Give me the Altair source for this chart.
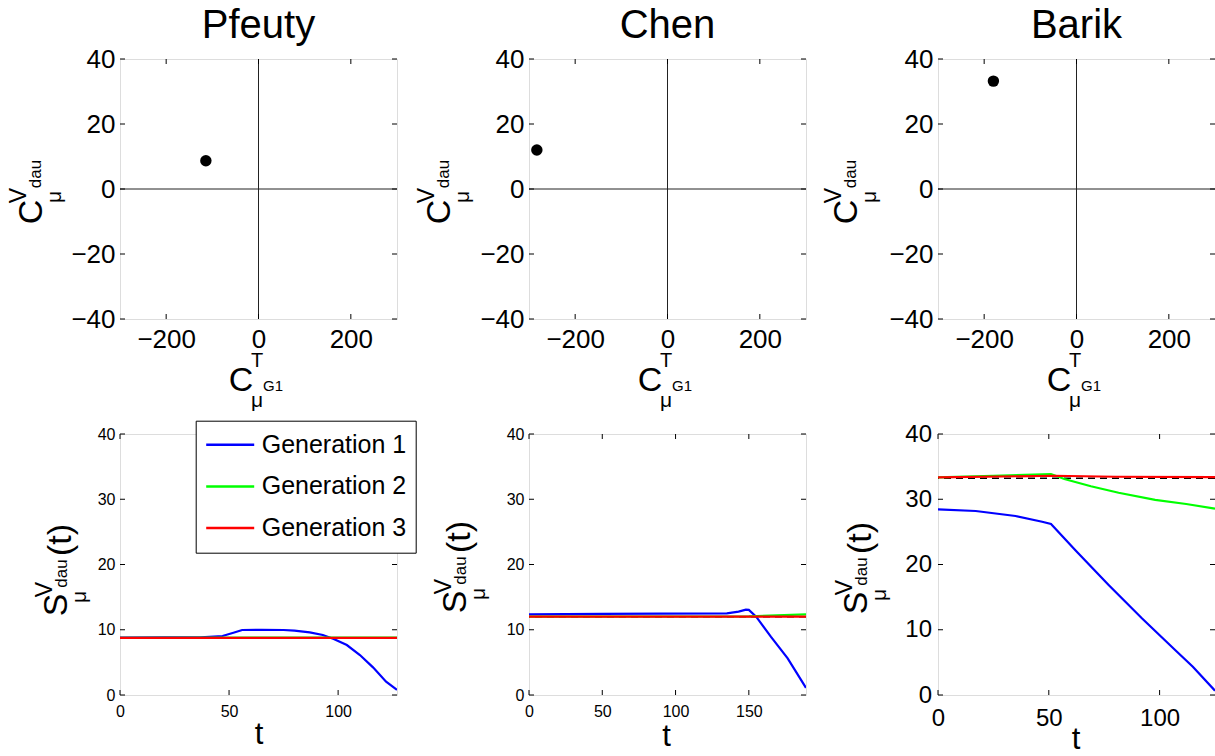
import altair as alt
import pandas as pd

FONT = "Liberation Sans"

models = ["Pfeuty", "Chen", "Barik"]
c_t_g1 = [-114, -283, -180]
c_v_dau = [8.7, 12.0, 33.2]

top_x_ticks = [-200, 0, 200]
top_y_ticks = [-40, -20, 0, 20, 40]
bottom_y_ticks = [0, 10, 20, 30, 40]
bottom_x_ticks = [[0, 50, 100], [0, 50, 100, 150], [0, 50, 100]]
t_end = [127, 189, 125]

generations = ["Generation 1", "Generation 2", "Generation 3"]
gen_colors = ["#0000ff", "#00ff00", "#ff0000"]

# Pfeuty
pf_g1_t = [0, 20, 37, 47, 52, 56, 65, 75, 80, 87, 93, 98, 104, 110, 116, 122, 127]
pf_g1_v = [8.8, 8.82, 8.84, 9.04, 9.55, 9.96, 9.99, 9.96, 9.88, 9.6, 9.2, 8.58, 7.66, 6.13, 4.24, 2.04, 0.8]
pf_g2_t = [0, 127]
pf_g2_v = [8.77, 8.8]
pf_g3_t = [0, 127]
pf_g3_v = [8.74, 8.74]

# Chen
ch_g1_t = [0, 50, 90, 135, 143, 148, 150, 155, 165, 176.5, 189]
ch_g1_v = [12.36, 12.42, 12.46, 12.52, 12.77, 13.08, 13.05, 12.0, 8.94, 5.62, 1.1]
ch_g2_t = [0, 150, 189]
ch_g2_v = [12.02, 12.05, 12.35]
ch_g3_t = [0, 189]
ch_g3_v = [12.0, 12.0]

# Barik
ba_g1_t = [0, 17, 35, 47, 51, 62, 77, 92, 107, 115, 125]
ba_g1_v = [28.46, 28.2, 27.43, 26.56, 26.2, 22.2, 16.86, 11.75, 6.9, 4.34, 0.66]
ba_g2_t = [0, 25, 51, 57, 69, 81.5, 98, 112, 125]
ba_g2_v = [33.35, 33.6, 33.87, 33.1, 32.0, 31.0, 29.9, 29.27, 28.55]
ba_g3_t = [0, 52, 80, 125]
ba_g3_v = [33.35, 33.6, 33.45, 33.4]

series = [
    [(pf_g1_t, pf_g1_v), (pf_g2_t, pf_g2_v), (pf_g3_t, pf_g3_v)],
    [(ch_g1_t, ch_g1_v), (ch_g2_t, ch_g2_v), (ch_g3_t, ch_g3_v)],
    [(ba_g1_t, ba_g1_v), (ba_g2_t, ba_g2_v), (ba_g3_t, ba_g3_v)],
]

W = 277
HT = 260
HB = 261
ONE = pd.DataFrame({"d": [0]})


def txt(s, x, y, size, angle=0, baseline="middle"):
    return alt.Chart(ONE).mark_text(
        text=s, fontSize=size, font=FONT, angle=angle, align="center",
        baseline=baseline, color="black"
    ).encode(x=alt.value(x), y=alt.value(y))


def inward_ticks(xvals, yvals, xs, ys, xaxis, yaxis, h, L=5):
    dx = pd.DataFrame({"v": xvals})
    dy = pd.DataFrame({"v": yvals})
    m = dict(color="black", strokeWidth=1)
    return [
        alt.Chart(dx).mark_rule(**m).encode(x=alt.X("v:Q", scale=xs, axis=xaxis), y=alt.value(h), y2=alt.value(h - L)),
        alt.Chart(dx).mark_rule(**m).encode(x=alt.X("v:Q", scale=xs, axis=xaxis), y=alt.value(0), y2=alt.value(L)),
        alt.Chart(dy).mark_rule(**m).encode(y=alt.Y("v:Q", scale=ys, axis=yaxis), x=alt.value(0), x2=alt.value(L)),
        alt.Chart(dy).mark_rule(**m).encode(y=alt.Y("v:Q", scale=ys, axis=yaxis), x=alt.value(W), x2=alt.value(W - L)),
    ]


def axis(vals, fs, pad):
    return alt.Axis(values=vals, title=None, labelFontSize=fs, labelPadding=pad,
                    labelFlush=False, labelOverlap=False, grid=False, ticks=False,
                    tickSize=0, domain=False, labelFont=FONT, labelColor="black")


def top_panel(i):
    xs = alt.Scale(domain=[-300, 300], nice=False, zero=False)
    ys = alt.Scale(domain=[-40, 40], nice=False, zero=False)
    xaxis = axis(top_x_ticks, 26, 7)
    yaxis = axis(top_y_ticks, 26, 5)
    zero = pd.DataFrame({"v": [0]})
    zx = alt.Chart(zero).mark_rule(color="#222222", strokeWidth=1).encode(
        x=alt.X("v:Q", scale=xs, axis=xaxis))
    zy = alt.Chart(zero).mark_rule(color="#222222", strokeWidth=1).encode(
        y=alt.Y("v:Q", scale=ys, axis=yaxis))
    pts = pd.DataFrame({"c": [c_t_g1[i]], "v": [c_v_dau[i]], "model": [models[i]]})
    dot = alt.Chart(pts).mark_circle(size=130, color="black", opacity=1).encode(
        x=alt.X("c:Q", scale=xs, axis=xaxis), y=alt.Y("v:Q", scale=ys, axis=yaxis))
    sx = [0, -1, -3][i]
    dy = 3
    labels = [
        txt(models[i], W / 2, -21, 40, baseline="alphabetic"),
        # y label  C_mu^{V_dau}
        txt("C", -88 + sx, 150 + dy, 34, angle=270),
        txt("V", -101 + sx, 133.5 + dy, 23, angle=270),
        txt("dau", -84.5 + sx, 112 + dy, 17, angle=270),
        txt("μ", -65 + sx, 135 + dy, 21, angle=270),
        # x label  C_mu^{T_G1}
        txt("C", 121, 322, 34),
        txt("T", 137, 302, 20),
        txt("G1", 153, 327, 15),
        txt("μ", 137, 342, 21),
    ]
    layers = [zx, zy] + inward_ticks(top_x_ticks, top_y_ticks, xs, ys, xaxis, yaxis, HT) + [dot] + labels
    return alt.layer(*layers).properties(width=W, height=HT)


def bottom_panel(i):
    xs = alt.Scale(domain=[0, t_end[i]], nice=False, zero=False)
    ys = alt.Scale(domain=[0, 40], nice=False, zero=False)
    fs = [16, 16, 24][i]
    xaxis = axis(bottom_x_ticks[i], fs, [8.5, 8.5, 11][i])
    yaxis = axis(bottom_y_ticks, fs, [5, 5, 6.5][i])
    rows = []
    for g, (ts, vs) in zip(generations, series[i]):
        for t, v in zip(ts, vs):
            rows.append({"t": t, "S": v, "gen": g})
    df = pd.DataFrame(rows)
    if i == 0:
        legend = alt.Legend(orient="none", legendX=75.7, legendY=-13.3, labelFontSize=25,
                            labelFont=FONT, labelColor="black", symbolType="stroke",
                            symbolSize=2304, symbolStrokeWidth=2.5, strokeColor="black",
                            fillColor="white", padding=9, clipHeight=30, rowPadding=11.7,
                            labelOffset=6, labelLimit=300)
    else:
        legend = None
    color = alt.Color("gen:N", scale=alt.Scale(domain=generations, range=gen_colors),
                      legend=legend, title=None)
    ref = alt.Chart(pd.DataFrame({"v": [c_v_dau[i]]})).mark_rule(
        color="black", strokeWidth=1.5, strokeDash=[7, 5]).encode(
        y=alt.Y("v:Q", scale=ys, axis=yaxis))
    lines = alt.Chart(df).mark_line(strokeWidth=2.2, clip=True).encode(
        x=alt.X("t:Q", scale=xs, axis=xaxis), y=alt.Y("S:Q", scale=ys, axis=yaxis),
        color=color, order=alt.Order("t:Q"))
    sx = [-63, -73, -81][i]
    sy = [168, 165, 166][i] + 3
    tpos = [(139, 301), (137.5, 303), (138, 306)][i]
    labels = [
        txt("S", sx, sy, 34, angle=270),
        txt("V", sx - 12, sy - 15.5, 23, angle=270),
        txt("dau", sx + 4.5, sy - 31.5, 17, angle=270),
        txt("μ", sx + 22.5, sy - 8, 21, angle=270),
        txt("(t)", sx + 4, sy - 65, 34, angle=270),
        txt("t", tpos[0], tpos[1], 31),
    ]
    layers = [ref] + inward_ticks(bottom_x_ticks[i], bottom_y_ticks, xs, ys, xaxis, yaxis, HB) + [lines] + labels
    return alt.layer(*layers).properties(width=W, height=HB)


panels = [top_panel(i) for i in range(3)] + [bottom_panel(i) for i in range(3)]

chart = alt.concat(
    *panels, columns=3, spacing={"row": 115, "column": 132}, bounds="flush"
).resolve_scale(
    x="independent", y="independent", color="independent"
).resolve_legend(
    color="independent"
).properties(
    autosize=alt.AutoSizeParams(type="none"),
    padding={"left": 120, "top": 59, "right": 1095, "bottom": 697},
).configure_view(
    stroke="black", strokeWidth=1
).configure_axis(
    grid=False, domain=False, ticks=False, tickSize=0, labelColor="black", labelFont=FONT
).configure(
    background="white"
)

chart.save("out.html", embed_options={"renderer": "svg", "actions": False})
